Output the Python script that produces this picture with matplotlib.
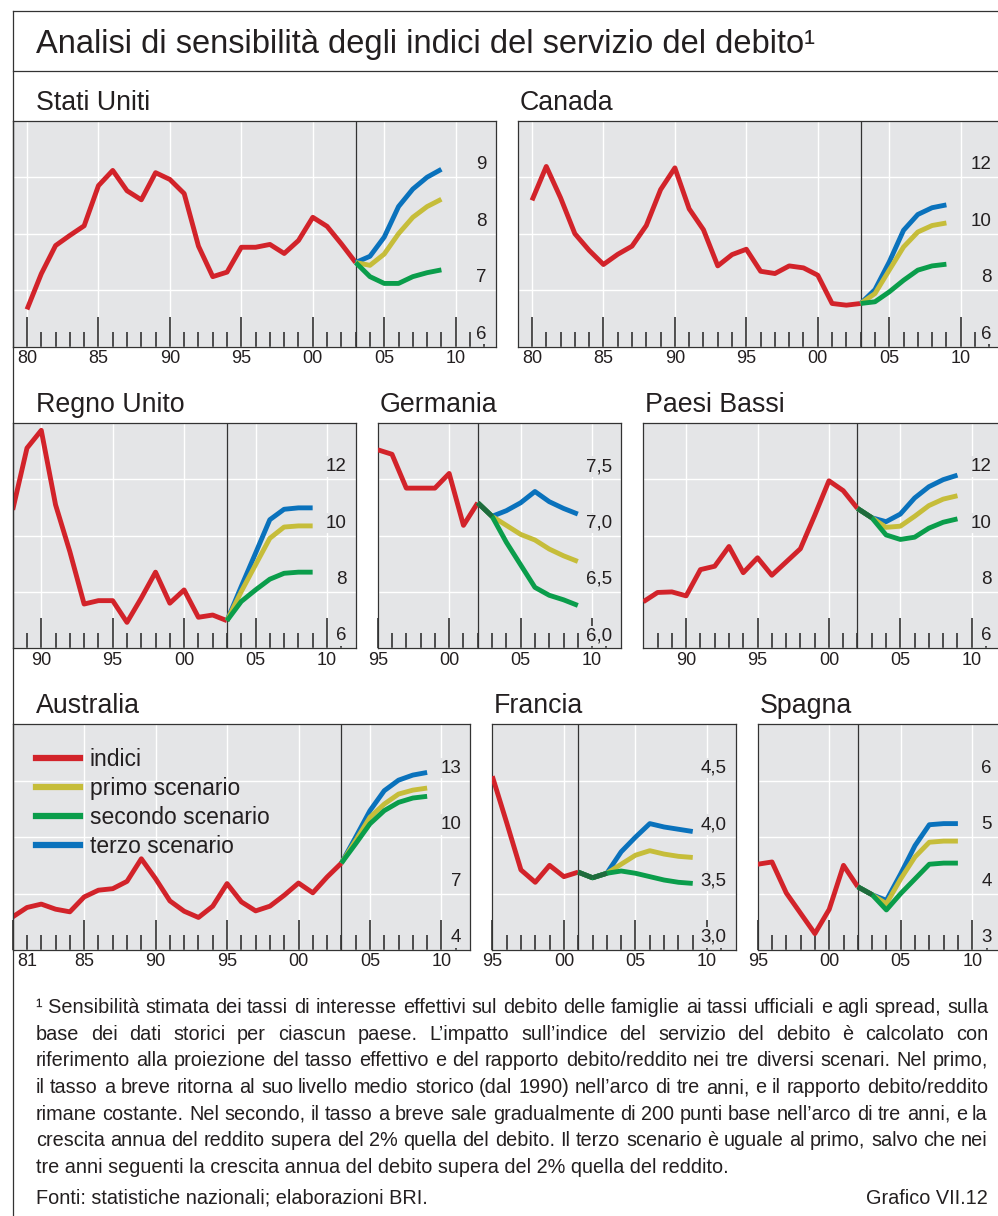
import matplotlib
matplotlib.use('Agg')
import matplotlib.pyplot as plt
from matplotlib.lines import Line2D

W, H = 998, 1216
plt.rcParams['font.family'] = ['Liberation Sans', 'DejaVu Sans']

# colori
BG = '#e4e5e7'
RED = '#d2232a'
YELLOW = '#c6bd3a'
GREEN = '#0a9d4b'
BLUE = '#0a72bc'
DARK = '#1f6b3d'
INK = '#231f20'

# ---- dati ----
# Stati Uniti, 1980-2003, proiezioni 2003-2009
us_ind = [6.66, 7.29, 7.79, 7.97, 8.14, 8.85, 9.12, 8.76, 8.60, 9.08, 8.96, 8.71,
          7.78, 7.24, 7.32, 7.76, 7.76, 7.81, 7.65, 7.88, 8.29, 8.13, 7.82, 7.49]
us_p1 = [7.49, 7.44, 7.64, 8.00, 8.29, 8.48, 8.61]
us_p2 = [7.49, 7.24, 7.12, 7.12, 7.24, 7.31, 7.36]
us_p3 = [7.49, 7.60, 7.94, 8.48, 8.79, 9.00, 9.14]

# Canada, 1980-2003
ca_ind = [11.18, 12.38, 11.27, 10.00, 9.41, 8.91, 9.27, 9.56, 10.29, 11.56, 12.33, 10.88,
          10.14, 8.86, 9.26, 9.45, 8.67, 8.59, 8.86, 8.79, 8.53, 7.53, 7.47, 7.53]
ca_p1 = [7.53, 7.88, 8.71, 9.53, 10.06, 10.29, 10.38]
ca_p2 = [7.53, 7.59, 7.94, 8.35, 8.71, 8.86, 8.92]
ca_p3 = [7.53, 8.02, 9.00, 10.12, 10.68, 10.92, 11.02]

# Regno Unito, 1988-2003
uk_ind = [10.91, 13.10, 13.73, 11.09, 9.43, 7.57, 7.69, 7.69, 6.92, 7.78, 8.70, 7.60,
          8.07, 7.10, 7.18, 6.98]
uk_p1 = [6.98, 8.01, 8.96, 9.90, 10.30, 10.34, 10.34]
uk_p2 = [6.98, 7.66, 8.07, 8.45, 8.66, 8.70, 8.70]
uk_p3 = [6.98, 8.19, 9.37, 10.56, 10.93, 10.98, 10.98]

# Germania, 1995-2002
de_ind = [7.76, 7.72, 7.42, 7.42, 7.42, 7.55, 7.09, 7.29]
de_p1 = [7.29, 7.17, 7.09, 7.01, 6.96, 6.88, 6.82, 6.77]
de_p2 = [7.29, 7.17, 6.94, 6.74, 6.54, 6.47, 6.43, 6.38]
de_p3 = [7.29, 7.17, 7.22, 7.29, 7.39, 7.30, 7.24, 7.19]

# Paesi Bassi, 1987-2002
nl_ind = [7.65, 7.98, 8.00, 7.86, 8.79, 8.91, 9.61, 8.68, 9.21, 8.59, 9.06, 9.53,
          10.71, 11.94, 11.59, 10.96]
nl_p1 = [10.96, 10.63, 10.29, 10.33, 10.68, 11.06, 11.29, 11.41]
nl_p2 = [10.96, 10.63, 10.02, 9.86, 9.94, 10.26, 10.47, 10.59]
nl_p3 = [10.96, 10.63, 10.49, 10.76, 11.33, 11.73, 11.98, 12.14]

# Australia, 1980-2003
au_ind = [5.76, 6.26, 6.44, 6.17, 6.03, 6.82, 7.18, 7.26, 7.65, 8.85, 7.79, 6.61,
          6.06, 5.73, 6.33, 7.53, 6.56, 6.08, 6.33, 6.91, 7.56, 7.04, 7.88, 8.62]
au_p1 = [8.62, 9.82, 11.06, 11.76, 12.29, 12.50, 12.61]
au_p2 = [8.62, 9.65, 10.71, 11.41, 11.85, 12.08, 12.17]
au_p3 = [8.62, 10.00, 11.41, 12.47, 13.03, 13.30, 13.44]

# Francia, 1995-2001
fr_ind = [4.54, 4.13, 3.71, 3.60, 3.75, 3.65, 3.69]
fr_p1 = [3.69, 3.64, 3.68, 3.76, 3.84, 3.88, 3.85, 3.83, 3.82]
fr_p2 = [3.69, 3.64, 3.68, 3.70, 3.68, 3.65, 3.62, 3.60, 3.59]
fr_p3 = [3.69, 3.64, 3.68, 3.87, 4.00, 4.12, 4.09, 4.07, 4.05]

# Spagna, 1995-2002
es_ind = [4.52, 4.56, 4.01, 3.65, 3.29, 3.72, 4.50, 4.12]
es_p1 = [4.12, 3.98, 3.82, 4.26, 4.65, 4.91, 4.93, 4.93]
es_p2 = [4.12, 3.98, 3.71, 4.00, 4.26, 4.52, 4.54, 4.54]
es_p3 = [4.12, 3.98, 3.88, 4.35, 4.85, 5.22, 5.24, 5.24]

legend_labels = ['indici', 'primo scenario', 'secondo scenario', 'terzo scenario']

fig = plt.figure(figsize=(W / 100, H / 100), dpi=100)


def px(x, y):
    return x / W, 1 - y / H


def hline(x0, x1, y):
    fig.add_artist(Line2D([x0 / W, x1 / W], [1 - y / H, 1 - y / H], color='#333333', lw=0.9))


def vline(x, y0, y1):
    fig.add_artist(Line2D([x / W, x / W], [1 - y0 / H, 1 - y1 / H], color='#333333', lw=0.9))


def panel(box, title, tdx, start, ind, p1, p2, p3, xlim, ylim, yticks, ylabels, xlab_years):
    l, t, r, b = box
    ax = fig.add_axes([l / W, 1 - b / H, (r - l) / W, (b - t) / H])
    ax.set_facecolor(BG)
    ax.set_xlim(xlim)
    ax.set_ylim(ylim)
    for s in ax.spines.values():
        s.set_color('#333333')
        s.set_linewidth(0.9)

    years = [y for y in range(int(xlim[0]) + 1, int(xlim[1]) + 1) if y < xlim[1]]
    majors = [y for y in years if y % 5 == 0]
    minors = [y for y in years if y % 5 != 0]
    lab = lambda y: '%02d' % (y % 100) if y in xlab_years else ''
    if xlim[0] % 5 == 0:
        majors = [int(xlim[0])] + majors
    ax.set_xticks(majors, [lab(y) for y in majors])
    ax.set_xticks(minors, [lab(y) for y in minors], minor=True)
    ax.tick_params(axis='x', which='both', direction='in', color='#222222', width=1.1,
                   labelsize=13, labelcolor=INK, pad=2.5, top=False)
    ax.tick_params(axis='x', which='major', length=21.6)
    ax.tick_params(axis='x', which='minor', length=10.8)
    ax.set_yticks(yticks)
    ax.tick_params(axis='y', length=0, labelleft=False)
    ax.grid(True, which='major', color='white', lw=1.0)
    ax.set_axisbelow(True)

    # etichette asse y dentro il riquadro, a destra
    for v, s in zip(yticks, ylabels):
        ax.annotate(s, xy=(1, v), xycoords=('axes fraction', 'data'), xytext=(-9, 8),
                    textcoords='offset pixels', ha='right', va='baseline', fontsize=13.5,
                    color=INK, zorder=6, annotation_clip=False,
                    bbox=dict(fc=BG, ec='none', pad=1.2))

    base = start + len(ind) - 1
    ax.axvline(base, color='#333333', lw=0.9, zorder=2)

    hist_years = list(range(start, base + 1))
    proj_years = list(range(base, base + len(p1)))
    h_ind, = ax.plot(hist_years, ind, color=RED, lw=3.5, zorder=3, solid_capstyle='butt')
    h3, = ax.plot(proj_years, p3, color=BLUE, lw=3.5, zorder=4, solid_capstyle='butt')
    h1, = ax.plot(proj_years, p1, color=YELLOW, lw=3.5, zorder=4, solid_capstyle='butt')
    h2, = ax.plot(proj_years, p2, color=GREEN, lw=3.5, zorder=4, solid_capstyle='butt')
    # tratto comune ai tre scenari
    for i in range(len(p1) - 1):
        if p1[i] == p2[i] == p3[i] and p1[i + 1] == p2[i + 1] == p3[i + 1]:
            ax.plot(proj_years[i:i + 2], p1[i:i + 2], color=DARK, lw=3.5, zorder=5,
                    solid_capstyle='butt')

    ax.annotate(title, xy=(0, 1), xycoords='axes fraction', xytext=(tdx, 11),
                textcoords='offset pixels', ha='left', va='baseline', fontsize=19.3,
                color=INK, annotation_clip=False)
    return ax


lab_all = [1980, 1985, 1990, 1995, 2000, 2005, 2010]

panel((12.7, 120.7, 495.7, 346.7), 'Stati Uniti', 23, 1980, us_ind, us_p1, us_p2, us_p3,
      (1979.0, 2012.8), (6, 10), [6, 7, 8, 9], ['6', '7', '8', '9'], lab_all)
panel((517.7, 120.7, 1000.7, 346.7), 'Canada', 2, 1980, ca_ind, ca_p1, ca_p2, ca_p3,
      (1979.0, 2012.8), (6, 14), [6, 8, 10, 12], ['6', '8', '10', '12'], lab_all)
panel((12.7, 422.7, 355.5, 648.3), 'Regno Unito', 23, 1988, uk_ind, uk_p1, uk_p2, uk_p3,
      (1988, 2012), (6, 14), [6, 8, 10, 12], ['6', '8', '10', '12'], lab_all)
panel((377.7, 422.7, 620.7, 648.3), 'Germania', 2, 1995, de_ind, de_p1, de_p2, de_p3,
      (1995, 2012), (6, 8), [6.0, 6.5, 7.0, 7.5], ['6,0', '6,5', '7,0', '7,5'], lab_all)
panel((643.3, 422.7, 1000.3, 648.3), 'Paesi Bassi', 2, 1987, nl_ind, nl_p1, nl_p2, nl_p3,
      (1987, 2012), (6, 14), [6, 8, 10, 12], ['6', '8', '10', '12'], lab_all)
ax_au = panel((12.7, 724.3, 470, 950), 'Australia', 23, 1980, au_ind, au_p1, au_p2, au_p3,
              (1980, 2012), (4, 16), [4, 7, 10, 13], ['4', '7', '10', '13'],
              [1981, 1985, 1990, 1995, 2000, 2005, 2010])
panel((492.3, 724.3, 735.7, 950), 'Francia', 1, 1995, fr_ind, fr_p1, fr_p2, fr_p3,
      (1995, 2012), (3, 5), [3.0, 3.5, 4.0, 4.5], ['3,0', '3,5', '4,0', '4,5'], lab_all)
panel((757.7, 724.3, 1000.8, 950), 'Spagna', 2, 1995, es_ind, es_p1, es_p2, es_p3,
      (1995, 2012), (3, 7), [3, 4, 5, 6], ['3', '4', '5', '6'], lab_all)

# legenda nel riquadro Australia
leg_handles = [Line2D([], [], color=c, lw=4.5) for c in (RED, YELLOW, GREEN, BLUE)]
ax_au.legend(leg_handles, legend_labels, loc='upper left', bbox_to_anchor=(0.05, 0.895),
             frameon=False, fontsize=16.5, handlelength=1.95, handletextpad=0.42,
             labelspacing=0.26, borderpad=0, borderaxespad=0, labelcolor=INK)

# cornice
hline(12.7, W, 10.7)
hline(12.7, W, 71)
vline(12.7, 10.7, H)

x, y = px(35.7, 53.3)
fig.text(x, y, 'Analisi di sensibilità degli indici del servizio del debito¹', fontsize=23.5,
         color=INK, va='baseline')

# nota a piè di pagina, giustificata
note_lines = [
    '¹\u00a0Sensibilità stimata dei tassi di interesse effettivi sul debito delle famiglie ai tassi ufficiali e agli spread, sulla',
    'base dei dati storici per ciascun paese. L’impatto sull’indice del servizio del debito è calcolato con',
    'riferimento alla proiezione del tasso effettivo e del rapporto debito/reddito nei tre diversi scenari. Nel primo,',
    'il tasso a breve ritorna al suo livello medio storico (dal 1990) nell’arco di tre anni, e il rapporto debito/reddito',
    'rimane costante. Nel secondo, il tasso a breve sale gradualmente di 200 punti base nell’arco di tre anni, e la',
    'crescita annua del reddito supera del 2% quella del debito. Il terzo scenario è uguale al primo, salvo che nei',
    'tre anni seguenti la crescita annua del debito supera del 2% quella del reddito.',
]
NOTE_FS = 14.3
renderer = fig.canvas.get_renderer()


def width_of(s):
    t = fig.text(0, 0, s, fontsize=NOTE_FS)
    w = t.get_window_extent(renderer).width
    t.remove()
    return w


left, right = 35.7, 988
y0, step = 1013, 26.7
for i, line in enumerate(note_lines):
    yy = round(y0 + i * step)
    if i == len(note_lines) - 1:
        x, y = px(left, yy)
        fig.text(x, y, line, fontsize=NOTE_FS, color=INK, va='baseline')
        continue
    words = line.split(' ')
    ws = [width_of(w) for w in words]
    gap = (right - left - sum(ws)) / (len(words) - 1)
    xx = left
    for w, wd in zip(words, ws):
        x, y = px(round(xx), yy)
        fig.text(x, y, w, fontsize=NOTE_FS, color=INK, va='baseline')
        xx += wd + gap

x, y = px(left, 1204)
fig.text(x, y, 'Fonti: statistiche nazionali; elaborazioni BRI.', fontsize=NOTE_FS, color=INK,
         va='baseline')
x, y = px(right, 1204)
fig.text(x, y, 'Grafico VII.12', fontsize=NOTE_FS, color=INK, va='baseline', ha='right')

fig.savefig('out.png', dpi=100)
